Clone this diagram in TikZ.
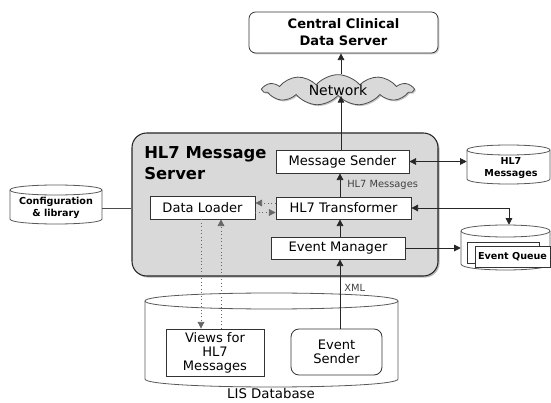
\documentclass[tikz,border=0pt]{standalone}
\usepackage{fontspec}
\setmainfont{DejaVu Sans}
\usetikzlibrary{arrows.meta,shapes.symbols,shadows,calc}
\newcommand{\mycyl}[5]{%
  \filldraw[cylline,fill=white] (#1,#3) -- (#1,#4) .. controls (#1,#4+1.333*#5) and (#2,#4+1.333*#5) .. (#2,#4) -- (#2,#3) .. controls (#2,#3-1.333*#5) and (#1,#3-1.333*#5) .. (#1,#3) -- cycle;
  \draw[cylline] (#1,#3) .. controls (#1,#3+1.333*#5) and (#2,#3+1.333*#5) .. (#2,#3);
}
\begin{document}
\begin{tikzpicture}[x=0.75pt,y=-0.75pt,
  box/.style={draw=black!80, fill=white, line width=0.6pt, inner sep=0pt, align=center,
    font=\fontsize{9.8}{10.5}\selectfont},
  ghost/.style={inner sep=0pt, draw=none},
  arr/.style={draw=black!85, line width=0.6pt, -{Triangle[length=5pt,width=5pt]}},
  darr/.style={draw=black!85, line width=0.6pt, {Triangle[length=5pt,width=5pt]}-{Triangle[length=5pt,width=5pt]}},
  dots/.style={draw=black!60, dotted, line width=0.6pt},
  cylline/.style={draw=black!65, line width=0.6pt},
  smallbold/.style={font=\fontsize{7.2}{8.6}\selectfont\bfseries, align=center, inner sep=0pt},
  lbl/.style={font=\fontsize{7.4}{9}\selectfont, text=black!75, inner sep=0pt}
]
\useasboundingbox (0,0) rectangle (551,403);

% server container
\node[draw=black!85, fill=black!15, line width=0.8pt, rounded corners=11pt,
  minimum width=229.5pt, minimum height=107.25pt, inner sep=0pt,
  drop shadow={shadow xshift=1.2pt, shadow yshift=-1.2pt, fill=black!55}] (srv) at (285,204.5) {};
\node[anchor=north west, align=left, inner sep=0pt,
  font=\fontsize{12.3}{15.75}\selectfont\bfseries] (title) at (144,146) {HL7 Message\\Server};

% top
\node[box, rounded corners=5pt, minimum width=141.75pt, minimum height=30.75pt,
  font=\fontsize{9.8}{12.75}\selectfont\bfseries,
  drop shadow={shadow xshift=1pt, shadow yshift=-1pt, fill=black!40}] (ccds) at (343.5,32.5) {Central Clinical\\Data Server};
\node[cloud, cloud puffs=11, cloud puff arc=100, aspect=5, draw=black!70, fill=black!15,
  minimum width=112.5pt, minimum height=23pt, inner sep=0pt, line width=0.6pt,
  font=\fontsize{10.5}{12}\selectfont,
  drop shadow={shadow xshift=1pt, shadow yshift=-1pt, fill=black!45}] (net) at (338,90) {Network};

% inner boxes
\node[box, minimum width=99.75pt, minimum height=17.25pt] (ms) at (342.5,161.5) {Message Sender};
\node[box, minimum width=101.25pt, minimum height=16.5pt] (ht) at (343.5,208) {HL7 Transformer};
\node[box, minimum width=100.5pt, minimum height=16.5pt] (em) at (338,248) {Event Manager};
\node[box, minimum width=78.75pt, minimum height=17.25pt] (dl) at (202.5,207.5) {Data Loader};

% cylinders
\mycyl{10}{102}{190}{219}{5}
\node[ghost, minimum width=69pt, minimum height=29.25pt] (cfg) at (56,204.5) {};
\node[smallbold] (cfgt) at (56,208) {Configuration\\\& library};

\mycyl{467}{550}{150}{179}{5}
\node[ghost, minimum width=62.25pt, minimum height=29.25pt] (hdb) at (508.5,164.5) {};
\node[smallbold] (hdbt) at (511,168) {HL7\\Messages};

\mycyl{461}{550}{231}{264}{6}
\node[ghost, minimum width=67.5pt, minimum height=33.75pt] (eq) at (506,247.5) {};
\node[box, minimum width=54pt, minimum height=15.75pt] (eqb) at (503,252.5) {};
\node[box, minimum width=56.25pt, minimum height=15.75pt, font=\fontsize{7.2}{8.6}\selectfont\bfseries] (eqf) at (512.5,256.5) {Event Queue};

\mycyl{145}{398}{301}{379}{8}
\node[ghost, minimum width=189.75pt, minimum height=71.25pt] (lis) at (271.5,340.5) {};
\node[font=\fontsize{10}{12}\selectfont, inner sep=0pt] (list) at (271,394) {LIS Database};

\node[box, minimum width=73.5pt, minimum height=35.25pt] (views) at (215,352.5) {Views for\\HL7\\Messages};
\node[box, rounded corners=6pt, minimum width=68.25pt, minimum height=34.5pt] (es) at (336.5,352) {Event\\Sender};

% coordinates for vertical connector columns
\coordinate (ax) at (340,0);
\coordinate (bx) at (341,0);
\coordinate (cx) at (509,0);
\coordinate (dlx) at (201,0);
\coordinate (drx) at (221,0);

% connectors
\draw[arr] (ms.north -| bx) -- (net.south -| bx);
\draw[arr] (net.north -| bx) -- (ccds.south -| bx);
\draw[arr] (ht.north -| ax) -- (ms.south -| ax);
\draw[arr] (em.north -| ax) -- (ht.south -| ax);
\draw[arr] (es.north -| ax) -- (em.south -| ax);
\node[lbl, anchor=west] (lblh) at (347,185) {HL7 Messages};
\node[lbl, anchor=west] (lblx) at (344,288) {XML};

\draw[darr] (ms.east) -- (ms.east -| hdb.west);
\draw[darr] (ht.east) -| (eq.north -| cx);
\draw[arr] (em.east) -- (em.east -| eq.west);
\draw[draw=black!70, line width=0.6pt] (cfg.east |- 0,208) -- (srv.west |- 0,208);

\draw[dots, -{Triangle[length=5pt,width=5pt]}] ([yshift=3.75pt]ht.west) -- ([yshift=3.75pt]ht.west -| dl.east);
\draw[dots, -{Triangle[length=5pt,width=5pt]}] ([yshift=-3.75pt]dl.east) -- ([yshift=-3.75pt]dl.east -| ht.west);
\draw[dots, -{Triangle[length=5pt,width=5pt]}] (dl.south -| dlx) -- (views.north -| dlx);
\draw[dots, -{Triangle[length=5pt,width=5pt]}] (views.north -| drx) -- (dl.south -| drx);
\end{tikzpicture}
\end{document}
